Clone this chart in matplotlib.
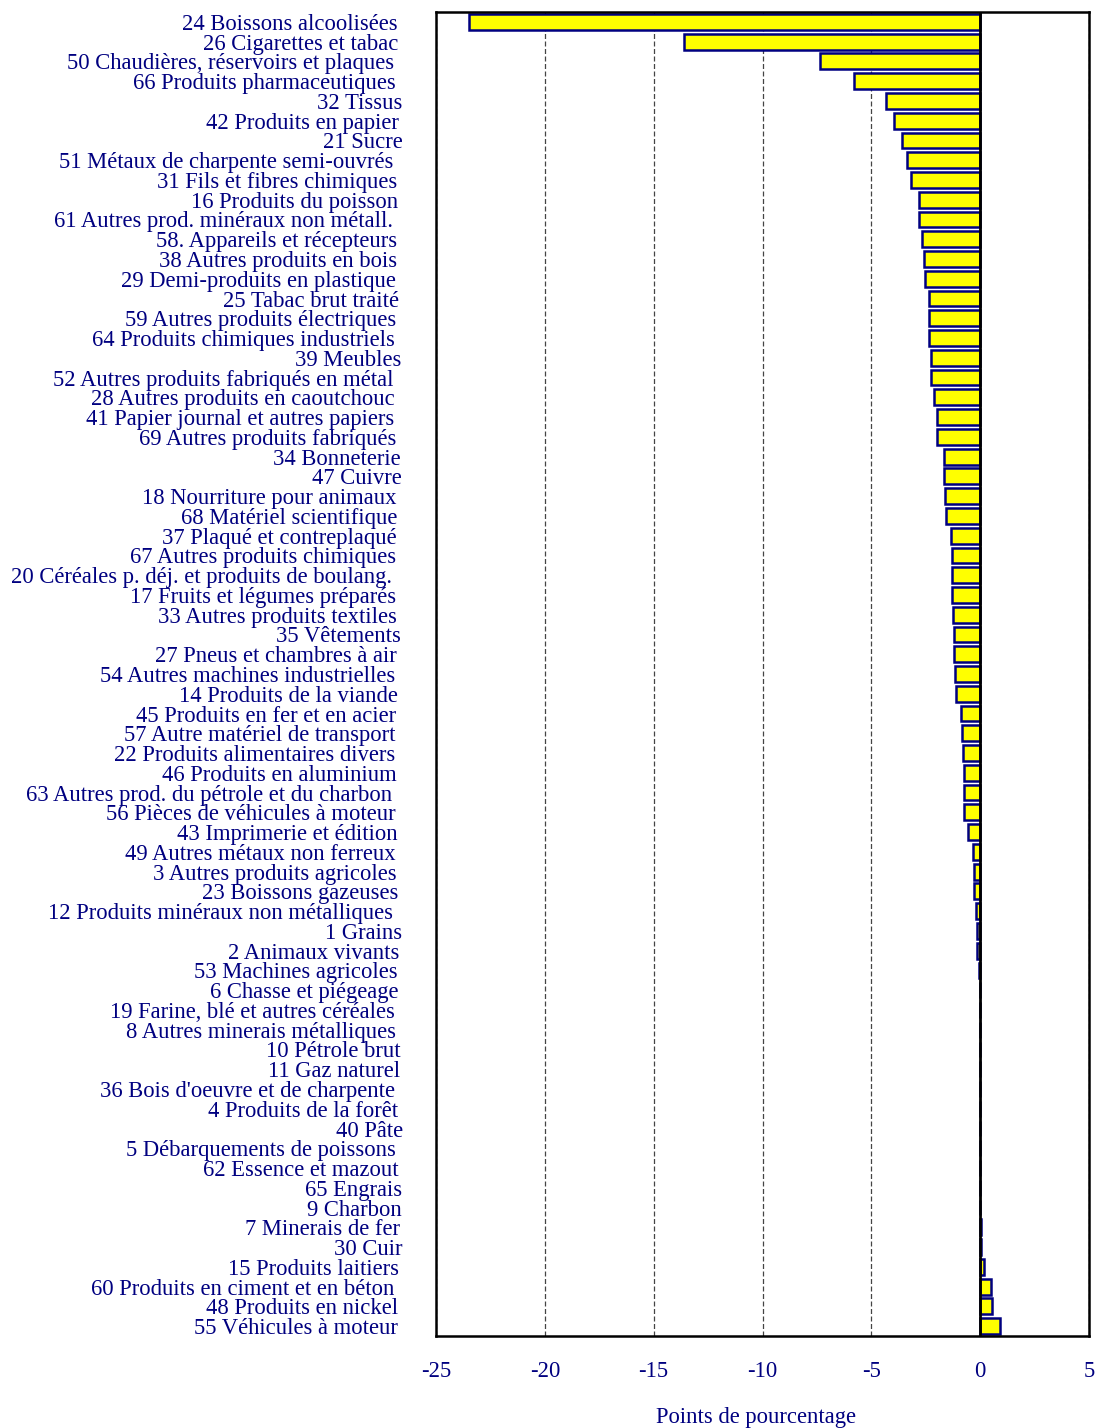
import matplotlib
matplotlib.use("Agg")
import matplotlib.pyplot as plt
from matplotlib.transforms import offset_copy

# Industry labels (top to bottom) and change in percentage points
categories = [
    "24 Boissons alcoolisées",
    "26 Cigarettes et tabac",
    "50 Chaudières, réservoirs et plaques",
    "66 Produits pharmaceutiques",
    "32 Tissus",
    "42 Produits en papier",
    "21 Sucre",
    "51 Métaux de charpente semi-ouvrés",
    "31 Fils et fibres chimiques",
    "16 Produits du poisson",
    "61 Autres prod. minéraux non métall.",
    "58. Appareils et récepteurs",
    "38 Autres produits en bois",
    "29 Demi-produits en plastique",
    "25 Tabac brut traité",
    "59 Autres produits électriques",
    "64 Produits chimiques industriels",
    "39 Meubles",
    "52 Autres produits fabriqués en métal",
    "28 Autres produits en caoutchouc",
    "41 Papier journal et autres papiers",
    "69 Autres produits fabriqués",
    "34 Bonneterie",
    "47 Cuivre",
    "18 Nourriture pour animaux",
    "68 Matériel scientifique",
    "37 Plaqué et contreplaqué",
    "67 Autres produits chimiques",
    "20 Céréales p. déj. et produits de boulang.",
    "17 Fruits et légumes préparés",
    "33 Autres produits textiles",
    "35 Vêtements",
    "27 Pneus et chambres à air",
    "54 Autres machines industrielles",
    "14 Produits de la viande",
    "45 Produits en fer et en acier",
    "57 Autre matériel de transport",
    "22 Produits alimentaires divers",
    "46 Produits en aluminium",
    "63 Autres prod. du pétrole et du charbon",
    "56 Pièces de véhicules à moteur",
    "43 Imprimerie et édition",
    "49 Autres métaux non ferreux",
    "3 Autres produits agricoles",
    "23 Boissons gazeuses",
    "12 Produits minéraux non métalliques",
    "1 Grains",
    "2 Animaux vivants",
    "53 Machines agricoles",
    "6 Chasse et piégeage",
    "19 Farine, blé et autres céréales",
    "8 Autres minerais métalliques",
    "10 Pétrole brut",
    "11 Gaz naturel",
    "36 Bois d'oeuvre et de charpente",
    "4 Produits de la forêt",
    "40 Pâte",
    "5 Débarquements de poissons",
    "62 Essence et mazout",
    "65 Engrais",
    "9 Charbon",
    "7 Minerais de fer",
    "30 Cuir",
    "15 Produits laitiers",
    "60 Produits en ciment et en béton",
    "48 Produits en nickel",
    "55 Véhicules à moteur",
]

values = [
    -23.50, -13.60, -7.38, -5.78, -4.32, -3.98, -3.57, -3.35, -3.16, -2.83,
    -2.83, -2.65, -2.59, -2.53, -2.36, -2.36, -2.36, -2.27, -2.27, -2.13,
    -1.97, -1.97, -1.68, -1.68, -1.61, -1.56, -1.35, -1.30, -1.30, -1.28,
    -1.26, -1.20, -1.20, -1.15, -1.11, -0.88, -0.84, -0.78, -0.75, -0.75,
    -0.72, -0.55, -0.31, -0.28, -0.28, -0.18, -0.16, -0.13, -0.05, -0.03,
    -0.02, 0.0, 0.0, 0.0, 0.0, 0.0, 0.0, 0.0, 0.0, 0.0,
    0.0, 0.04, 0.06, 0.16, 0.48, 0.54, 0.90,
]

x_ticks = [-25, -20, -15, -10, -5, 0, 5]
x_label = "Points de pourcentage"

navy = "#000080"
fs = 16.3
plt.rcParams["font.family"] = ["Liberation Serif", "DejaVu Serif"]

fig = plt.figure(figsize=(10.95, 14.28), dpi=100)
ax = fig.add_axes([436 / 1095, 92 / 1428, 653 / 1095, 1324 / 1428])

pos = list(range(len(categories)))
ax.barh(pos, values, height=0.8, color="#FFFF00", edgecolor=navy,
        linewidth=1.8, zorder=2)

ax.axvline(0, color="black", linewidth=2.0, zorder=3)

ax.set_xlim(-25, 5)
ax.set_ylim(len(categories) - 0.5, -0.5)
ax.set_xticks(x_ticks)
ax.set_xticklabels([str(t) for t in x_ticks])
ax.set_yticks([])

ax.grid(axis="x", linestyle=(0, (4, 2)), color="#444444", linewidth=0.9, zorder=1)

ax.tick_params(axis="x", length=0, pad=18, labelsize=fs, labelcolor=navy)

for s in ax.spines.values():
    s.set_linewidth(1.8)
    s.set_color("black")

# Category labels: right-aligned left of the axes, longer labels sitting
# slightly further left (ragged right edge).
ytrans = ax.get_yaxis_transform()
labels = [ax.text(0, i, lab, transform=ytrans, ha="right", va="center",
                  fontsize=fs, color=navy, clip_on=False)
          for i, lab in enumerate(categories)]
fig.canvas.draw()
renderer = fig.canvas.get_renderer()
for t in labels:
    w = t.get_window_extent(renderer).width
    t.set_transform(offset_copy(ytrans, fig=fig, x=-(31 + 0.034 * w), y=-2.5,
                                units="dots"))

# axis title sits just above the bottom edge of the figure
fig.text(756 / 1095, 1 - 1417 / 1428, x_label, fontsize=fs, color=navy,
         ha="center", va="center")

fig.savefig("out.png", dpi=100)
